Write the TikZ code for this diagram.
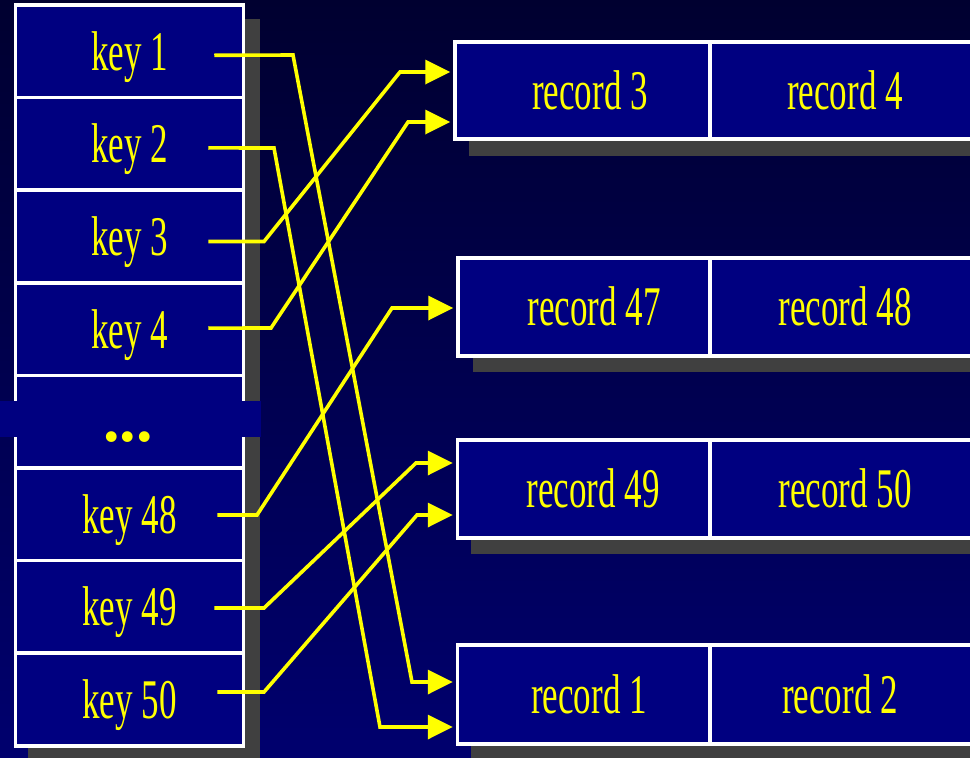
\documentclass[tikz,border=0pt]{standalone}
\usepackage{fontspec}
\setmainfont[FakeStretch=0.625]{Liberation Serif}
\newfontfamily\dotfont{Liberation Serif}
\usetikzlibrary{arrows.meta,calc}
\definecolor{bgtop}{HTML}{000030}
\definecolor{bgbot}{HTML}{00006E}
\definecolor{boxfill}{HTML}{000080}
\definecolor{shade}{HTML}{404040}
\definecolor{ink}{HTML}{FFFF00}
\begin{document}
\begin{tikzpicture}[x=1pt,y=-1pt,
 keybox/.style={draw=white,fill=boxfill,line width=3.5pt,minimum width=228pt,minimum height=92.6pt,inner sep=0pt,text=ink,font=\fontsize{56}{60}\selectfont,text height=38pt,text depth=0pt},
 recbox/.style={draw=white,fill=boxfill,line width=3.5pt,inner sep=0pt},
 rectext/.style={text=ink,font=\fontsize{56}{60}\selectfont,anchor=base,inner sep=0pt},
 shadowbox/.style={fill=shade},
 link/.style={draw=ink,line width=3.6pt,shorten >=3pt,-{Triangle[length=25pt,width=24pt]}}
]
\useasboundingbox (0,0) rectangle (970,758);
\clip (0,0) rectangle (970,758);
\fill[top color=bgtop,bottom color=bgbot] (0,0) rectangle (970,758);

% left column
\fill[shadowbox] (28,19) rectangle (260,765);
\node[keybox] (k1)  at (129.5, 51.3) {key 1};
\node[keybox] (k2)  at (129.5,143.9) {key 2};
\node[keybox] (k3)  at (129.5,236.5) {key 3};
\node[keybox] (k4)  at (129.5,329.1) {key 4};
\node[keybox] (kd)  at (129.5,421.7) {};
\node[keybox] (k48) at (129.5,514.3) {key 48};
\node[keybox] (k49) at (129.5,606.9) {key 49};
\node[keybox] (k50) at (129.5,699.5) {key 50};
\fill[boxfill] (0,401) rectangle (261,437);
\node[text=ink,font=\dotfont\bfseries\fontsize{66}{66}\selectfont,anchor=base,inner sep=0pt] (dots) at (128,441) {...};

% records
\fill[shadowbox] (469,56) rectangle (995,156);
\fill[shadowbox] (473,272) rectangle (995,372);
\fill[shadowbox] (471,454) rectangle (995,554);
\fill[shadowbox] (471,659) rectangle (995,760);

\node[recbox,minimum width=255pt,minimum height=97pt] (r3) at (582.5,90.5) {};
\node[recbox,minimum width=280pt,minimum height=97pt] (r4) at (850,90.5) {};
\node[recbox,minimum width=252pt,minimum height=98pt] (r47) at (584,307) {};
\node[recbox,minimum width=280pt,minimum height=98pt] (r48) at (850,307) {};
\node[recbox,minimum width=252.5pt,minimum height=98pt] (r49) at (583.75,489) {};
\node[recbox,minimum width=280pt,minimum height=98pt] (r50) at (850,489) {};
\node[recbox,minimum width=252.5pt,minimum height=99pt] (r1) at (583.75,694.5) {};
\node[recbox,minimum width=280pt,minimum height=99pt] (r2) at (850,694.5) {};

\node[rectext] (t3)  at (590,109) {record 3};
\node[rectext] (t4)  at (845,109) {record 4};
\node[rectext] (t47) at (594,325.5) {record 47};
\node[rectext] (t48) at (845,325.5) {record 48};
\node[rectext] (t49) at (593,507.5) {record 49};
\node[rectext] (t50) at (845,507.5) {record 50};
\node[rectext] (t1)  at (589,713) {record 1};
\node[rectext] (t2)  at (840,713) {record 2};

% links
\draw[link] ($(k1.east)+(-31,4)$) -- (293,55) -- (412,682) -- (r1.west |- 0,682);
\draw[link] ($(k2.east)+(-37,4)$) -- (274,148) -- (380,727) -- (r1.west |- 0,727);
\draw[link] ($(k3.east)+(-37,5)$) -- (264,241.5) -- (400,72) -- (r3.west |- 0,72);
\draw[link] ($(k4.east)+(-37,-1)$) -- (271,328) -- (408,122) -- (r3.west |- 0,122);
\draw[link] ($(k48.east)+(-28,0.7)$) -- (257,515) -- (392,308) -- (r47.west |- 0,308);
\draw[link] ($(k49.east)+(-31,1.1)$) -- (264,608) -- (416,463) -- (r49.west |- 0,463);
\draw[link] ($(k50.east)+(-28,-7.5)$) -- (264,692) -- (417,515) -- (r49.west |- 0,515);
\end{tikzpicture}
\end{document}
